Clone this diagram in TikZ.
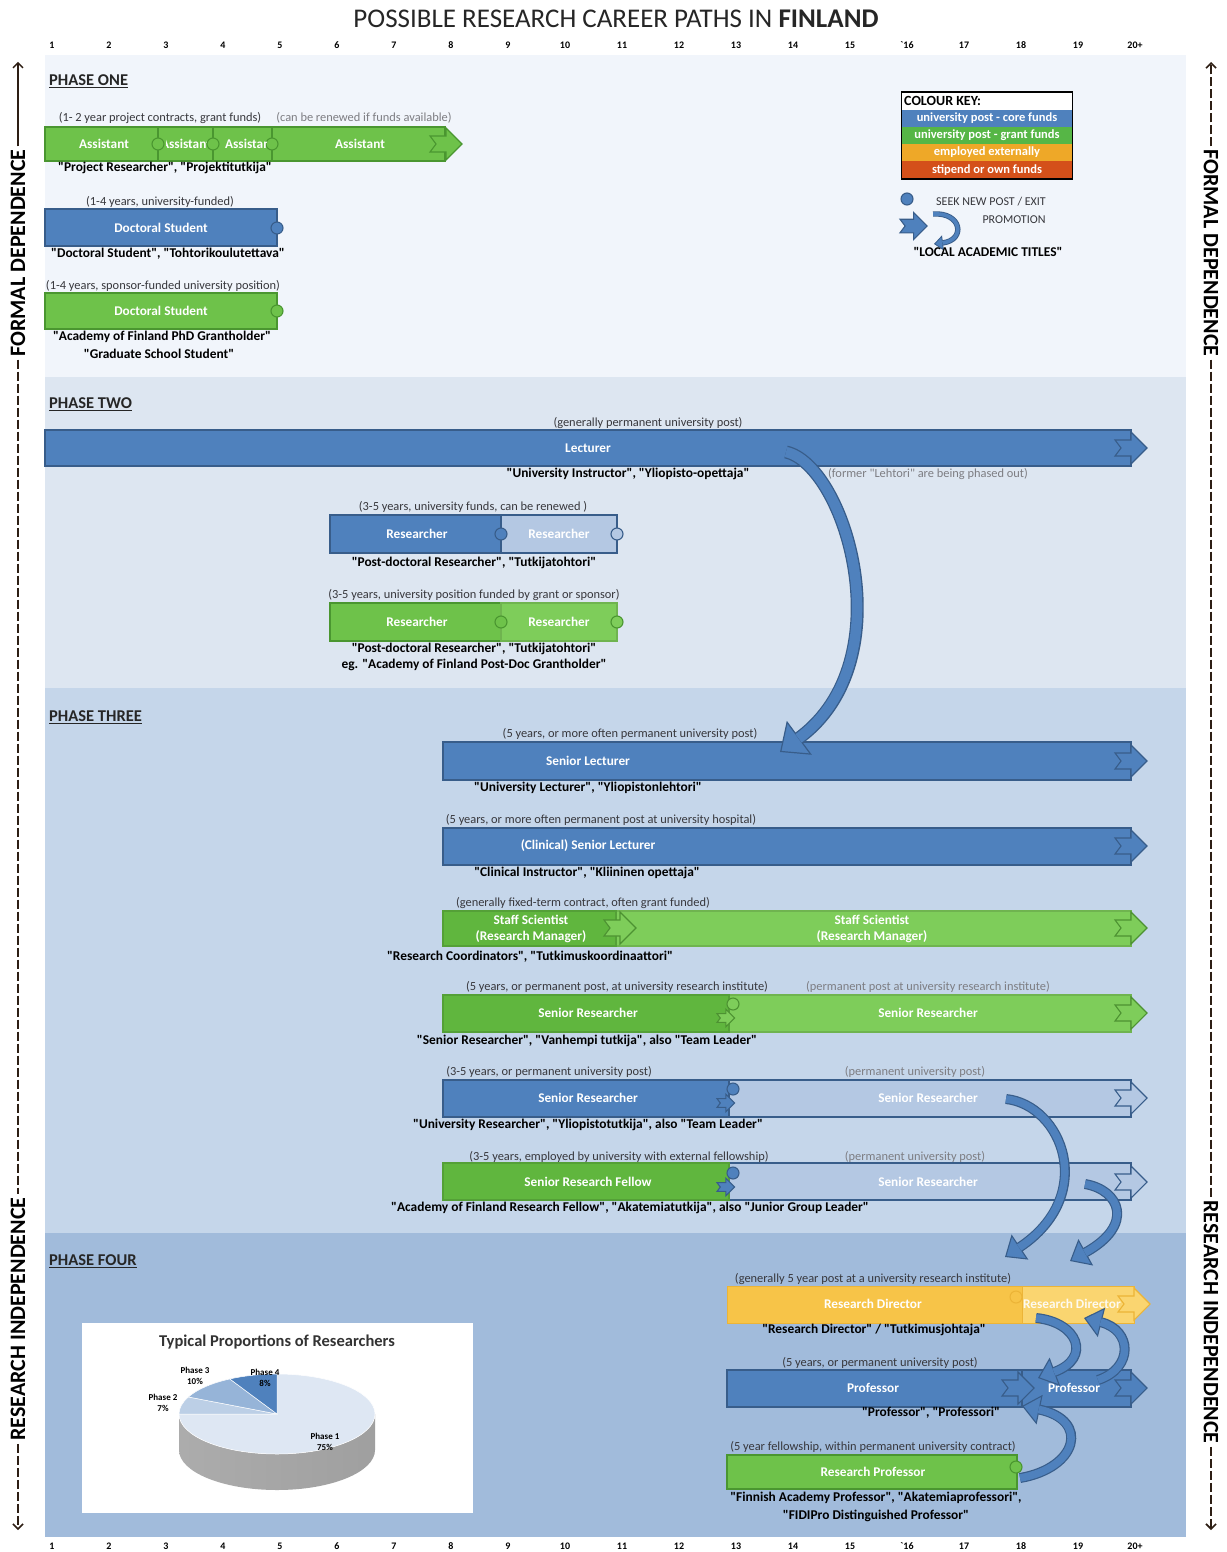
\documentclass[tikz,border=0pt]{standalone}
\usepackage{fontspec}
\setmainfont{Carlito}[Ligatures=TeXOff]
\usetikzlibrary{arrows.meta,calc}
\definecolor{pone}{RGB}{241,245,251}
\definecolor{ptwo}{RGB}{221,230,241}
\definecolor{pthree}{RGB}{197,214,234}
\definecolor{pfour}{RGB}{161,187,219}
\definecolor{bblue}{RGB}{79,129,189}
\definecolor{bdark}{RGB}{56,93,138}
\definecolor{blight}{RGB}{180,200,227}
\definecolor{ggreen}{RGB}{110,194,74}
\definecolor{gdeep}{RGB}{96,182,62}
\definecolor{glight}{RGB}{126,205,90}
\definecolor{gdark}{RGB}{74,150,48}
\definecolor{yel}{RGB}{247,196,72}
\definecolor{yellight}{RGB}{250,213,112}
\definecolor{yeldark}{RGB}{236,180,55}
\definecolor{kgreen}{RGB}{86,182,70}
\definecolor{korange}{RGB}{238,168,40}
\definecolor{kred}{RGB}{212,80,26}
\definecolor{notegray}{RGB}{55,55,60}
\definecolor{fadegray}{RGB}{125,125,130}
\definecolor{sideline}{RGB}{45,30,20}
\definecolor{pieA}{RGB}{222,231,243}
\definecolor{pieB}{RGB}{188,207,230}
\definecolor{pieC}{RGB}{150,180,216}
\definecolor{pieD}{RGB}{79,129,189}
\newcommand\fnote{\fontsize{12.4}{14}\selectfont}
\newcommand\flab{\fontsize{13.4}{16}\selectfont\bfseries}
\newcommand\fbar{\fontsize{13.3}{16.5}\selectfont\bfseries}
\newcommand\fphase{\fontsize{16.5}{18}\selectfont\bfseries}
\newcommand\faxis{\fontsize{10}{11}\selectfont\bfseries}
\newcommand\fside{\fontsize{22}{24}\selectfont\bfseries}
\newcommand\fkey{\fontsize{12.5}{14}\selectfont\bfseries}
\newcommand\mybar[6]{\node[#6, minimum width={(#4-#2)*1pt}, minimum height={(#5-#3)*1pt}, anchor=north west] (#1) at (#2,#3) {};}
\newcommand\chev[5]{\begin{scope}[shift={(#1,#2)}, scale=#3]
 \path[fill=#4, draw=#5, line width=1.1pt] (0,-8) -- (16,-8) -- (16,-16) -- (32,0) -- (16,16) -- (16,8) -- (0,8) -- (6,0) -- cycle;
 \end{scope}}
\newcommand\knob[4]{\path[fill=#3, draw=#4, line width=1.1pt] (#1,#2) circle[radius=6];}
\newcommand\xicon[4]{\knob{#1}{#2-9}{#3}{#4}\chev{#1-16}{#2+5}{0.55}{#3}{#4}}
\begin{document}
\begin{tikzpicture}[x=1pt,y=-1pt,
 bt/.style={text=white, font=\fbar, inner sep=0pt, align=center},
 note/.style={text=notegray, font=\fnote, inner sep=0pt},
 gnote/.style={text=fadegray, font=\fnote, inner sep=0pt},
 lab/.style={text=black, font=\flab, inner sep=0pt, align=center},
 phase/.style={font=\fphase, anchor=west, inner sep=0pt, text=black!85},
 axis/.style={font=\faxis, inner sep=0pt},
 sidelab/.style={font=\fside, inner sep=3pt},
 seg/.style={rectangle, inner sep=0pt, outer sep=0pt, line width=2.2pt},
 bbar/.style={seg, fill=bblue, draw=bdark},
 lbar/.style={seg, fill=blight, draw=bdark},
 gbar/.style={seg, fill=ggreen, draw=gdark},
 gdbar/.style={seg, fill=gdeep, draw=gdeep!88!black},
 glbar/.style={seg, fill=glight, draw=glight!88!black},
 ybar/.style={seg, fill=yel, draw=yeldark, line width=1pt},
 ylbar/.style={seg, fill=yellight, draw=yeldark, line width=1pt},
 keyt/.style={text=white, font=\fkey, inner sep=0pt},
 carrow/.style={line width=13pt, draw=bdark, -{Triangle[length=24pt,width=42pt,fill=bblue,line width=1.2pt]}},
 carrowin/.style={line width=10.4pt, draw=bblue, shorten >=23pt},
 sarrow/.style={line width=10pt, draw=bdark, -{Triangle[length=18pt,width=30pt,fill=bblue,line width=1.1pt]}},
 sarrowin/.style={line width=7.6pt, draw=bblue, shorten >=17pt},
 sidearrow/.style={line width=1.4pt, draw=sideline},
 sidedash/.style={line width=1.6pt, draw=sideline, dash pattern=on 9pt off 3pt}
]
\useasboundingbox (0,0) rectangle (1226,1552);
\fill[white] (0,0) rectangle (1226,1552);
% panels
\fill[pone] (45,55) rectangle (1186,377);
\fill[ptwo] (45,377) rectangle (1186,688);
\fill[pthree] (45,688) rectangle (1186,1233);
\fill[pfour] (45,1233) rectangle (1186,1537);
% title
\node[font=\fontsize{27}{30}\selectfont, text=black!85, inner sep=0pt] (title) at (616,19) {POSSIBLE RESEARCH CAREER PATHS IN \textbf{FINLAND}};
% axes
\foreach \n/\l in {1/1,2/2,3/3,4/4,5/5,6/6,7/7,8/8,9/9,10/10,11/11,12/12,13/13,14/14,15/15,16/`16,17/17,18/18,19/19,20/20+}{
 \node[axis] (ta\n) at ({52+57*(\n-1)},45) {\l};
 \node[axis] (ba\n) at ({52+57*(\n-1)},1546) {\l};
}
% side labels
\node[sidelab, rotate=90] (fdl) at (18,253) {FORMAL DEPENDENCE};
\node[sidelab, rotate=90] (ril) at (18,1319) {RESEARCH INDEPENDENCE};
\node[sidelab, rotate=-90] (fdr) at (1211,253) {FORMAL DEPENDENCE};
\node[sidelab, rotate=-90] (rir) at (1211,1322) {RESEARCH INDEPENDENCE};
\coordinate (lt) at (18,62); \coordinate (lb) at (18,1530);
\coordinate (rt) at (1211,62); \coordinate (rb) at (1211,1530);
\draw[sidearrow, -{Straight Barb[length=5pt,width=10pt]}] (fdl.east) -- (lt);
\draw[sidedash] (fdl.west) -- (ril.east);
\draw[sidedash, -{Straight Barb[length=5pt,width=10pt]}] (ril.west) -- (lb);
\draw[sidedash, -{Straight Barb[length=5pt,width=10pt]}] (fdr.west) -- (rt);
\draw[sidedash] (fdr.east) -- (rir.west);
\draw[sidedash, -{Straight Barb[length=5pt,width=10pt]}] (rir.east) -- (rb);
% phase labels
\node[phase] (ph1) at (49,81) {\underline{PHASE ONE}};
\node[phase] (ph2) at (49,404) {\underline{PHASE TWO}};
\node[phase] (ph3) at (49,717) {\underline{PHASE THREE}};
\node[phase] (ph4) at (49,1261) {\underline{PHASE FOUR}};

% ===== PHASE ONE =====
\node[note] (n1a) at (160,118) {(1- 2 year project contracts, grant funds)};
\node[gnote] (n1b) at (364,118) {(can be renewed if funds available)};
\mybar{as1}{45}{127}{158}{161}{gbar}
\mybar{as2}{158}{127}{213}{161}{gbar}
\mybar{as3}{213}{127}{272}{161}{gbar}
\mybar{as4}{272}{127}{445}{161}{gbar}
\chev{430}{144}{1}{ggreen}{gdark}
\knob{158}{144}{ggreen}{gdark}
\knob{213}{144}{ggreen}{gdark}
\knob{272}{144}{ggreen}{gdark}
\node[bt] (tas1) at (104,144) {Assistant};
\begin{scope}\clip (166,129) rectangle (206,159);
\node[bt] (tas2) at (186,144) {Assistant};\end{scope}
\begin{scope}\clip (220,129) rectangle (266,159);
\node[bt] (tas3) at (250,144) {Assistant};\end{scope}
\node[bt] (tas4) at (360,144) {Assistant};
\node[lab] (l1a) at (165,168) {"Project Researcher", "Projektitutkija"};

\node[note] (n1c) at (160,202) {(1-4 years, university-funded)};
\mybar{ds}{45}{209}{277}{246}{bbar}
\knob{277}{228}{bblue}{bdark}
\node[bt] (tds) at (161,228) {Doctoral Student};
\node[lab] (l1b) at (168,254) {"Doctoral Student", "Tohtorikoulutettava"};

\node[note] (n1d) at (163,286) {(1-4 years, sponsor-funded university position)};
\mybar{dg}{45}{293}{277}{329}{gbar}
\knob{277}{311}{ggreen}{gdark}
\node[bt] (tdg) at (161,311) {Doctoral Student};
\node[lab] (l1c) at (162,337) {"Academy of Finland PhD Grantholder"};
\node[lab] (l1d) at (159,354) {"Graduate School Student"};

% colour key
\node[draw=black, line width=1pt, fill=white, minimum width=171, minimum height=87, anchor=north west, inner sep=0pt] (key) at (901,92) {};
\fill[bblue] (902,110) rectangle (1072,127);
\fill[kgreen] (902,127) rectangle (1072,144);
\fill[korange] (902,144) rectangle (1072,161);
\fill[kred] (902,161) rectangle (1072,178);
\draw[line width=1pt] (901,92) rectangle (1072,178);
\node[font=\fontsize{14}{15}\selectfont\bfseries, anchor=west, inner sep=0pt] (keyt) at (904,101) {COLOUR KEY:};
\node[keyt] (k1) at (987,118) {university post - core funds};
\node[keyt] (k2) at (987,135) {university post - grant funds};
\node[keyt] (k3) at (987,152) {employed externally};
\node[keyt] (k4) at (987,170) {stipend or own funds};
% legend
\knob{907}{199}{bblue}{bdark}
\node[text=notegray, font=\fontsize{12}{13}\selectfont, inner sep=0pt] (lg1) at (991,202) {SEEK NEW POST / EXIT};
\node[text=notegray, font=\fontsize{12}{13}\selectfont, inner sep=0pt] (lg2) at (1014,220) {PROMOTION};
\chev{900}{226}{0.85}{bblue}{bdark}
\coordinate (lgs) at (933,214);
\coordinate (lge) at (934,244);
\draw[line width=5.4pt, draw=bdark, -{Triangle[length=9pt,width=15pt,fill=bblue,line width=0.8pt]}] (lgs) .. controls (962,212) and (966,240) .. (lge);
\draw[line width=3.6pt, draw=bblue, shorten >=8.5pt] (lgs) .. controls (962,212) and (966,240) .. (lge);
\node[lab] (lg3) at (988,252) {"LOCAL ACADEMIC TITLES"};

% ===== PHASE TWO =====
\node[note] (n2a) at (648,423) {(generally permanent university post)};
\mybar{lec}{45}{430}{1131}{466}{bbar}
\chev{1115}{448}{1}{bblue}{bdark}
\node[bt] (tlec) at (588,448) {Lecturer};
\node[lab] (l2a) at (628,474) {"University Instructor", "Yliopisto-opettaja"};
\node[gnote] (n2b) at (928,474) {(former "Lehtori" are being phased out)};

\node[note] (n2c) at (473,507) {(3-5 years, university funds, can be renewed )};
\mybar{rb1}{330}{515}{501}{553}{bbar}
\mybar{rb2}{501}{515}{617}{553}{lbar}
\knob{501}{534}{bblue}{bdark}
\knob{617}{534}{blight}{bdark}
\node[bt] (trb1) at (417,534) {Researcher};
\node[bt] (trb2) at (559,534) {Researcher};
\node[lab] (l2b) at (474,563) {"Post-doctoral Researcher", "Tutkijatohtori"};

\node[note] (n2d) at (474,595) {(3-5 years, university position funded by grant or sponsor)};
\mybar{rg1}{330}{603}{501}{641}{gbar}
\mybar{rg2}{501}{603}{617}{641}{glbar}
\knob{501}{622}{ggreen}{gdark}
\knob{617}{622}{glight}{gdark}
\node[bt] (trg1) at (417,622) {Researcher};
\node[bt] (trg2) at (559,622) {Researcher};
\node[lab] (l2c) at (474,649) {"Post-doctoral Researcher", "Tutkijatohtori"};
\node[lab] (l2d) at (474,665) {eg. "Academy of Finland Post-Doc Grantholder"};

% ===== PHASE THREE =====
\node[note] (n3a) at (630,734) {(5 years, or more often permanent university post)};
\mybar{sl}{443}{742}{1131}{780}{bbar}
\chev{1115}{761}{1}{bblue}{bdark}
\node[bt] (tsl) at (588,761) {Senior Lecturer};
\node[lab] (l3a) at (588,788) {"University Lecturer", "Yliopistonlehtori"};

\node[note] (n3b) at (601,820) {(5 years, or more often permanent post at university hospital)};
\mybar{csl}{443}{828}{1131}{865}{bbar}
\chev{1115}{846}{1}{bblue}{bdark}
\node[bt] (tcsl) at (588,846) {(Clinical) Senior Lecturer};
\node[lab] (l3b) at (587,873) {"Clinical Instructor", "Kliininen opettaja"};

\node[note] (n3c) at (583,903) {(generally fixed-term contract, often grant funded)};
\mybar{ss2}{443}{911}{1131}{946}{glbar}
\mybar{ss1}{443}{911}{616}{946}{gdbar}
\chev{604}{928}{1}{glight}{gdeep!80!black}
\chev{1115}{928}{1}{glight}{gdeep!80!black}
\node[bt] (tss1) at (531,929) {Staff Scientist\\(Research Manager)};
\node[bt] (tss2) at (872,929) {Staff Scientist\\(Research Manager)};
\node[lab] (l3c) at (530,957) {"Research Coordinators", "Tutkimuskoordinaattori"};

\node[note] (n3d) at (617,987) {(5 years, or permanent post, at university research institute)};
\node[gnote] (n3e) at (928,987) {(permanent post at university research institute)};
\mybar{sr2}{443}{995}{1131}{1032}{glbar}
\mybar{sr1}{443}{995}{729}{1032}{gdbar}
\xicon{733}{1013}{glight}{gdeep!80!black}
\chev{1115}{1013}{1}{glight}{gdeep!80!black}
\node[bt] (tsr1) at (588,1013) {Senior Researcher};
\node[bt] (tsr2) at (928,1013) {Senior Researcher};
\node[lab] (l3d) at (587,1041) {"Senior Researcher", "Vanhempi tutkija", also "Team Leader"};

\node[note] (n3f) at (549,1072) {(3-5 years, or permanent university post)};
\node[gnote] (n3g) at (915,1072) {(permanent university post)};
\mybar{ub2}{443}{1080}{1131}{1117}{lbar}
\mybar{ub1}{443}{1080}{729}{1117}{bbar}
\xicon{733}{1098}{bblue}{bdark}
\chev{1115}{1098}{1}{blight}{bdark}
\node[bt] (tub1) at (588,1098) {Senior Researcher};
\node[bt] (tub2) at (928,1098) {Senior Researcher};
\node[lab] (l3e) at (588,1125) {"University Researcher", "Yliopistotutkija", also "Team Leader"};

\node[note] (n3h) at (619,1157) {(3-5 years, employed by university with external fellowship)};
\node[gnote] (n3i) at (915,1157) {(permanent university post)};
\mybar{fb2}{443}{1163}{1131}{1200}{lbar}
\mybar{fb1}{443}{1163}{729}{1200}{gdbar}
\xicon{733}{1182}{bblue}{bdark}
\chev{1115}{1182}{1}{blight}{bdark}
\node[bt] (tfb1) at (588,1182) {Senior Research Fellow};
\node[bt] (tfb2) at (928,1182) {Senior Researcher};
\node[lab] (l3f) at (630,1208) {"Academy of Finland Research Fellow", "Akatemiatutkija", also "Junior Group Leader"};

% ===== PHASE FOUR =====
\node[note] (n4a) at (873,1279) {(generally 5 year post at a university research institute)};
\mybar{rd2}{727}{1286}{1134}{1323}{ylbar}
\mybar{rd1}{727}{1286}{1022}{1323}{ybar}
\chev{1118}{1304}{1}{yellight}{yeldark}
\knob{1016}{1297}{yel}{yeldark}
\node[bt] (trd1) at (873,1304) {Research Director};
\node[bt, text=white!92!yel] (trd2) at (1072,1304) {Research Director};
\node[lab] (l4a) at (874,1330) {"Research Director" / "Tutkimusjohtaja"};

\node[note] (n4b) at (880,1363) {(5 years, or permanent university post)};
\mybar{pr2}{727}{1370}{1131}{1407}{bbar}
\mybar{pr1}{727}{1370}{1022}{1407}{bbar}
\chev{1002}{1388}{1}{bblue}{bdark}
\chev{1115}{1388}{1}{bblue}{bdark}
\node[bt] (tpr1) at (873,1388) {Professor};
\node[bt] (tpr2) at (1074,1388) {Professor};
\node[lab] (l4b) at (931,1413) {"Professor", "Professori"};

\node[note] (n4c) at (873,1447) {(5 year fellowship, within permanent university contract)};
\mybar{rp}{727}{1455}{1017}{1489}{gbar}
\knob{1016}{1467}{ggreen}{gdark}
\node[bt] (trp) at (873,1472) {Research Professor};
\node[lab] (l4c) at (876,1498) {"Finnish Academy Professor", "Akatemiaprofessori",};
\node[lab] (l4d) at (876,1516) {"FIDIPro Distinguished Professor"};

% ===== curved promotion arrows =====
\coordinate (c1s) at (786,452);
\coordinate (c1e) at (780,752);
\draw[carrow] (c1s) .. controls (845,465) and (905,660) .. (c1e);
\draw[carrowin] (c1s) .. controls (845,465) and (905,660) .. (c1e);

\coordinate (cAs) at (1006,1099);
\coordinate (cAe) at (1005,1257);
\draw[sarrow] (cAs) .. controls (1062,1105) and (1098,1195) .. (cAe);
\draw[sarrowin] (cAs) .. controls (1062,1105) and (1098,1195) .. (cAe);

\coordinate (cBs) at (1085,1184);
\coordinate (cBe) at (1070,1261);
\draw[sarrow] (cBs) .. controls (1120,1190) and (1135,1225) .. (cBe);
\draw[sarrowin] (cBs) .. controls (1120,1190) and (1135,1225) .. (cBe);

\coordinate (cCs) at (1036,1318);
\coordinate (cCe) at (1038,1378);
\draw[sarrow] (cCs) .. controls (1078,1322) and (1092,1358) .. (cCe);
\draw[sarrowin] (cCs) .. controls (1078,1322) and (1092,1358) .. (cCe);

\coordinate (cDs) at (1098,1380);
\coordinate (cDe) at (1084,1318);
\draw[sarrow] (cDs) .. controls (1134,1368) and (1132,1330) .. (cDe);
\draw[sarrowin] (cDs) .. controls (1134,1368) and (1132,1330) .. (cDe);

\coordinate (cEs) at (1020,1478);
\coordinate (cEe) at (1022,1406);
\draw[sarrow] (cEs) .. controls (1078,1468) and (1090,1420) .. (cEe);
\draw[sarrowin] (cEs) .. controls (1078,1468) and (1090,1420) .. (cEe);

% ===== pie chart =====
\node[fill=white, minimum width=391, minimum height=190, anchor=north west, inner sep=0pt] (piebox) at (82,1323) {};
\node[font=\fontsize{16.5}{18}\selectfont\bfseries, text=black!80, inner sep=0pt] (pietitle) at (277,1342) {Typical Proportions of Researchers};
\coordinate (pc) at (277,1414);
\shade[left color=gray!65, middle color=gray!35, right color=gray!75] (179,1414) -- (179,1450) arc[start angle=180, end angle=0, x radius=98, y radius=40] -- (375,1414) arc[start angle=0, end angle=180, x radius=98, y radius=40] -- cycle;
\fill[pieA, draw=white, line width=0.5pt] (pc) -- ($(pc)+(270:98 and 40)$) arc[start angle=270, end angle=540, x radius=98, y radius=40] -- cycle;
\fill[pieB, draw=white, line width=0.5pt] (pc) -- ($(pc)+(180:98 and 40)$) arc[start angle=180, end angle=205.2, x radius=98, y radius=40] -- cycle;
\fill[pieC, draw=white, line width=0.5pt] (pc) -- ($(pc)+(205.2:98 and 40)$) arc[start angle=205.2, end angle=241.2, x radius=98, y radius=40] -- cycle;
\fill[pieD, draw=white, line width=0.5pt] (pc) -- ($(pc)+(241.2:98 and 40)$) arc[start angle=241.2, end angle=270, x radius=98, y radius=40] -- cycle;
\node[font=\fontsize{9}{11}\selectfont\bfseries, align=center, inner sep=0pt] (pl3) at (195,1376) {Phase 3\\10\%};
\node[font=\fontsize{9}{11}\selectfont\bfseries, align=center, inner sep=0pt] (pl4) at (265,1378) {Phase 4\\8\%};
\node[font=\fontsize{9}{11}\selectfont\bfseries, align=center, inner sep=0pt] (pl2) at (163,1403) {Phase 2\\7\%};
\node[font=\fontsize{9}{11}\selectfont\bfseries, align=center, inner sep=0pt] (pl1) at (325,1442) {Phase 1\\75\%};
\end{tikzpicture}
\end{document}
